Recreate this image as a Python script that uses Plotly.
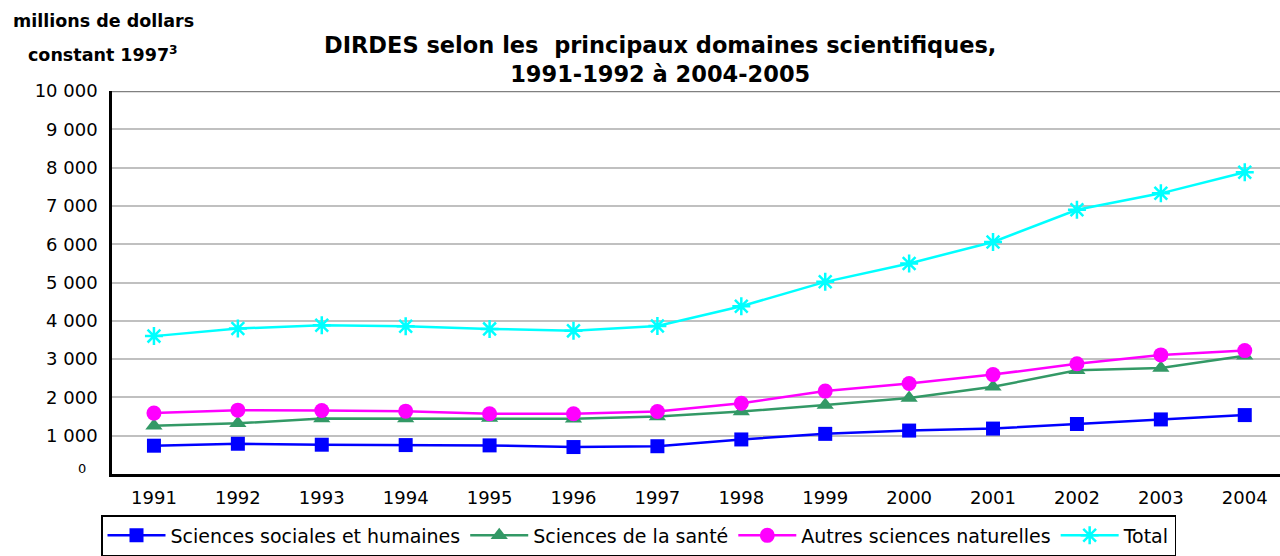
import plotly.graph_objects as go

years = [1991, 1992, 1993, 1994, 1995, 1996, 1997, 1998, 1999, 2000, 2001, 2002, 2003, 2004]
sociales = [739, 790, 765, 755, 747, 704, 725, 902, 1048, 1134, 1186, 1306, 1425, 1538]
sante = [1263, 1323, 1452, 1452, 1460, 1443, 1503, 1632, 1800, 1985, 2276, 2706, 2766, 3085]
autres = [1590, 1667, 1658, 1641, 1572, 1572, 1632, 1847, 2165, 2363, 2595, 2878, 3110, 3222]
total = [3600, 3797, 3884, 3858, 3789, 3737, 3866, 4381, 5017, 5498, 6057, 6899, 7328, 7878]

y_ticks = [1000, 2000, 3000, 4000, 5000, 6000, 7000, 8000, 9000, 10000]
y_labels = ["1 000", "2 000", "3 000", "4 000", "5 000", "6 000", "7 000", "8 000", "9 000", "10 000"]

series = [
    ("Sciences sociales et humaines", sociales, "#0000FF", "square", 14, 0),
    ("Sciences de la santé", sante, "#339966", "triangle-up", 15, 0),
    ("Autres sciences naturelles", autres, "#FF00FF", "circle", 15, 0),
    ("Total", total, "#00FFFF", "asterisk-open", 15, 2.5),
]

fig = go.Figure()
for name, vals, color, sym, size, lw in series:
    marker = dict(symbol=sym, size=size, color=color)
    if lw:
        marker["line"] = dict(color=color, width=lw)
    fig.add_trace(go.Scatter(
        x=years, y=vals, name=name, mode="lines+markers",
        line=dict(color=color, width=2.5), marker=marker,
    ))

font_family = "DejaVu Sans, Arial, sans-serif"
W_PLOT = 1168.0
H_PLOT = 388.0

def px_x(x):
    return (x - 112) / W_PLOT

def px_y(y):
    return (479 - y) / H_PLOT

fig.update_layout(
    width=1280, height=556,
    margin=dict(l=112, r=0, t=91, b=77),
    paper_bgcolor="white", plot_bgcolor="white",
    font=dict(family=font_family, size=18, color="black"),
    showlegend=True,
    legend=dict(
        orientation="h", x=px_x(101), y=px_y(521), xanchor="left", yanchor="top",
        bordercolor="black", borderwidth=1.5, bgcolor="white",
        font=dict(size=19), itemwidth=58, tracegroupgap=0,
    ),
    xaxis=dict(
        range=[1990.5, 2004.42], tickvals=years, ticktext=[str(y) for y in years],
        showgrid=False, zeroline=False, showline=True, linecolor="black", linewidth=2.5,
        ticks="", ticklabelstandoff=6, tickfont=dict(size=18),
    ),
    yaxis=dict(
        range=[0, 10000], tickvals=y_ticks, ticktext=y_labels,
        showgrid=True, gridcolor="#C0C0C0", gridwidth=2,
        zeroline=False, showline=True, linecolor="black", linewidth=2.5,
        ticks="", ticklabelstandoff=8, tickfont=dict(size=18),
    ),
    annotations=[
        dict(text="<b>DIRDES selon les  principaux domaines scientifiques,<br>1991-1992 à 2004-2005</b>",
             xref="paper", yref="paper", x=px_x(660), y=px_y(59),
             xanchor="center", yanchor="middle", showarrow=False,
             font=dict(size=22.5)),
        dict(text="<b>millions de dollars</b>", xref="paper", yref="paper",
             x=px_x(103), y=px_y(20), xanchor="center", yanchor="middle",
             showarrow=False, font=dict(size=17.5)),
        dict(text="<b>constant 1997<sup>3</sup></b>", xref="paper", yref="paper",
             x=px_x(103), y=px_y(54), xanchor="center", yanchor="middle",
             showarrow=False, font=dict(size=17.5)),
        dict(text="0", xref="paper", yref="paper",
             x=px_x(82), y=px_y(473), xanchor="center", yanchor="middle",
             showarrow=False, font=dict(size=13)),
    ],
    shapes=[
        dict(type="line", xref="paper", yref="y", x0=0, x1=1, y0=10000, y1=10000,
             line=dict(color="#808080", width=2.5), layer="below"),
    ],
)

fig.write_html(
    "out.html",
    config={"displayModeBar": False},
    post_script="document.body.style.margin='0';document.body.style.padding='0';document.body.style.overflow='hidden';",
)
